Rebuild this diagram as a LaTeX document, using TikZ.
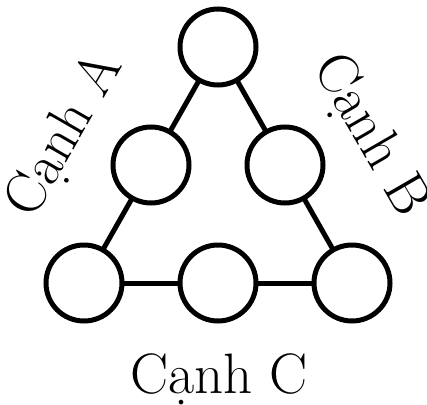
\documentclass[tikz,border=0pt]{standalone}
\usepackage{fontspec}
\usepackage{tikz}
\usepackage{tkz-graph}
\usetikzlibrary{arrows}

\begin{document}
\begin{tikzpicture}[x=1pt,y=-1pt]
\useasboundingbox (0,0) rectangle (427,404);
\GraphInit[vstyle=Normal]
\SetVertexNormal[Shape = circle, LineWidth = 5pt, FillColor = white]
\tikzset{VertexStyle/.append style={minimum size=76pt, inner sep=0pt}}
\Vertex[x=218,y=47,NoLabel]{t}
\Vertex[x=151,y=165,NoLabel]{l}
\Vertex[x=285,y=165,NoLabel]{r}
\Vertex[x=84,y=283,NoLabel]{bl}
\Vertex[x=218,y=283,NoLabel]{bm}
\Vertex[x=352,y=283,NoLabel]{br}
\tikzset{EdgeStyle/.style={line width=5pt}}
\Edge(t)(l)
\Edge(l)(bl)
\Edge(t)(r)
\Edge(r)(br)
\Edge(bl)(bm)
\Edge(bm)(br)
\tikzset{side/.style={font=\fontsize{57}{62}\selectfont, anchor=base, inner sep=0pt}}
\node[side, rotate=60] (sa) at (78,143) {Cạnh A};
\node[side, rotate=-60] (sb) at (357,143) {Cạnh B};
\node[side] (sc) at (219,393) {Cạnh C};
\end{tikzpicture}
\end{document}
